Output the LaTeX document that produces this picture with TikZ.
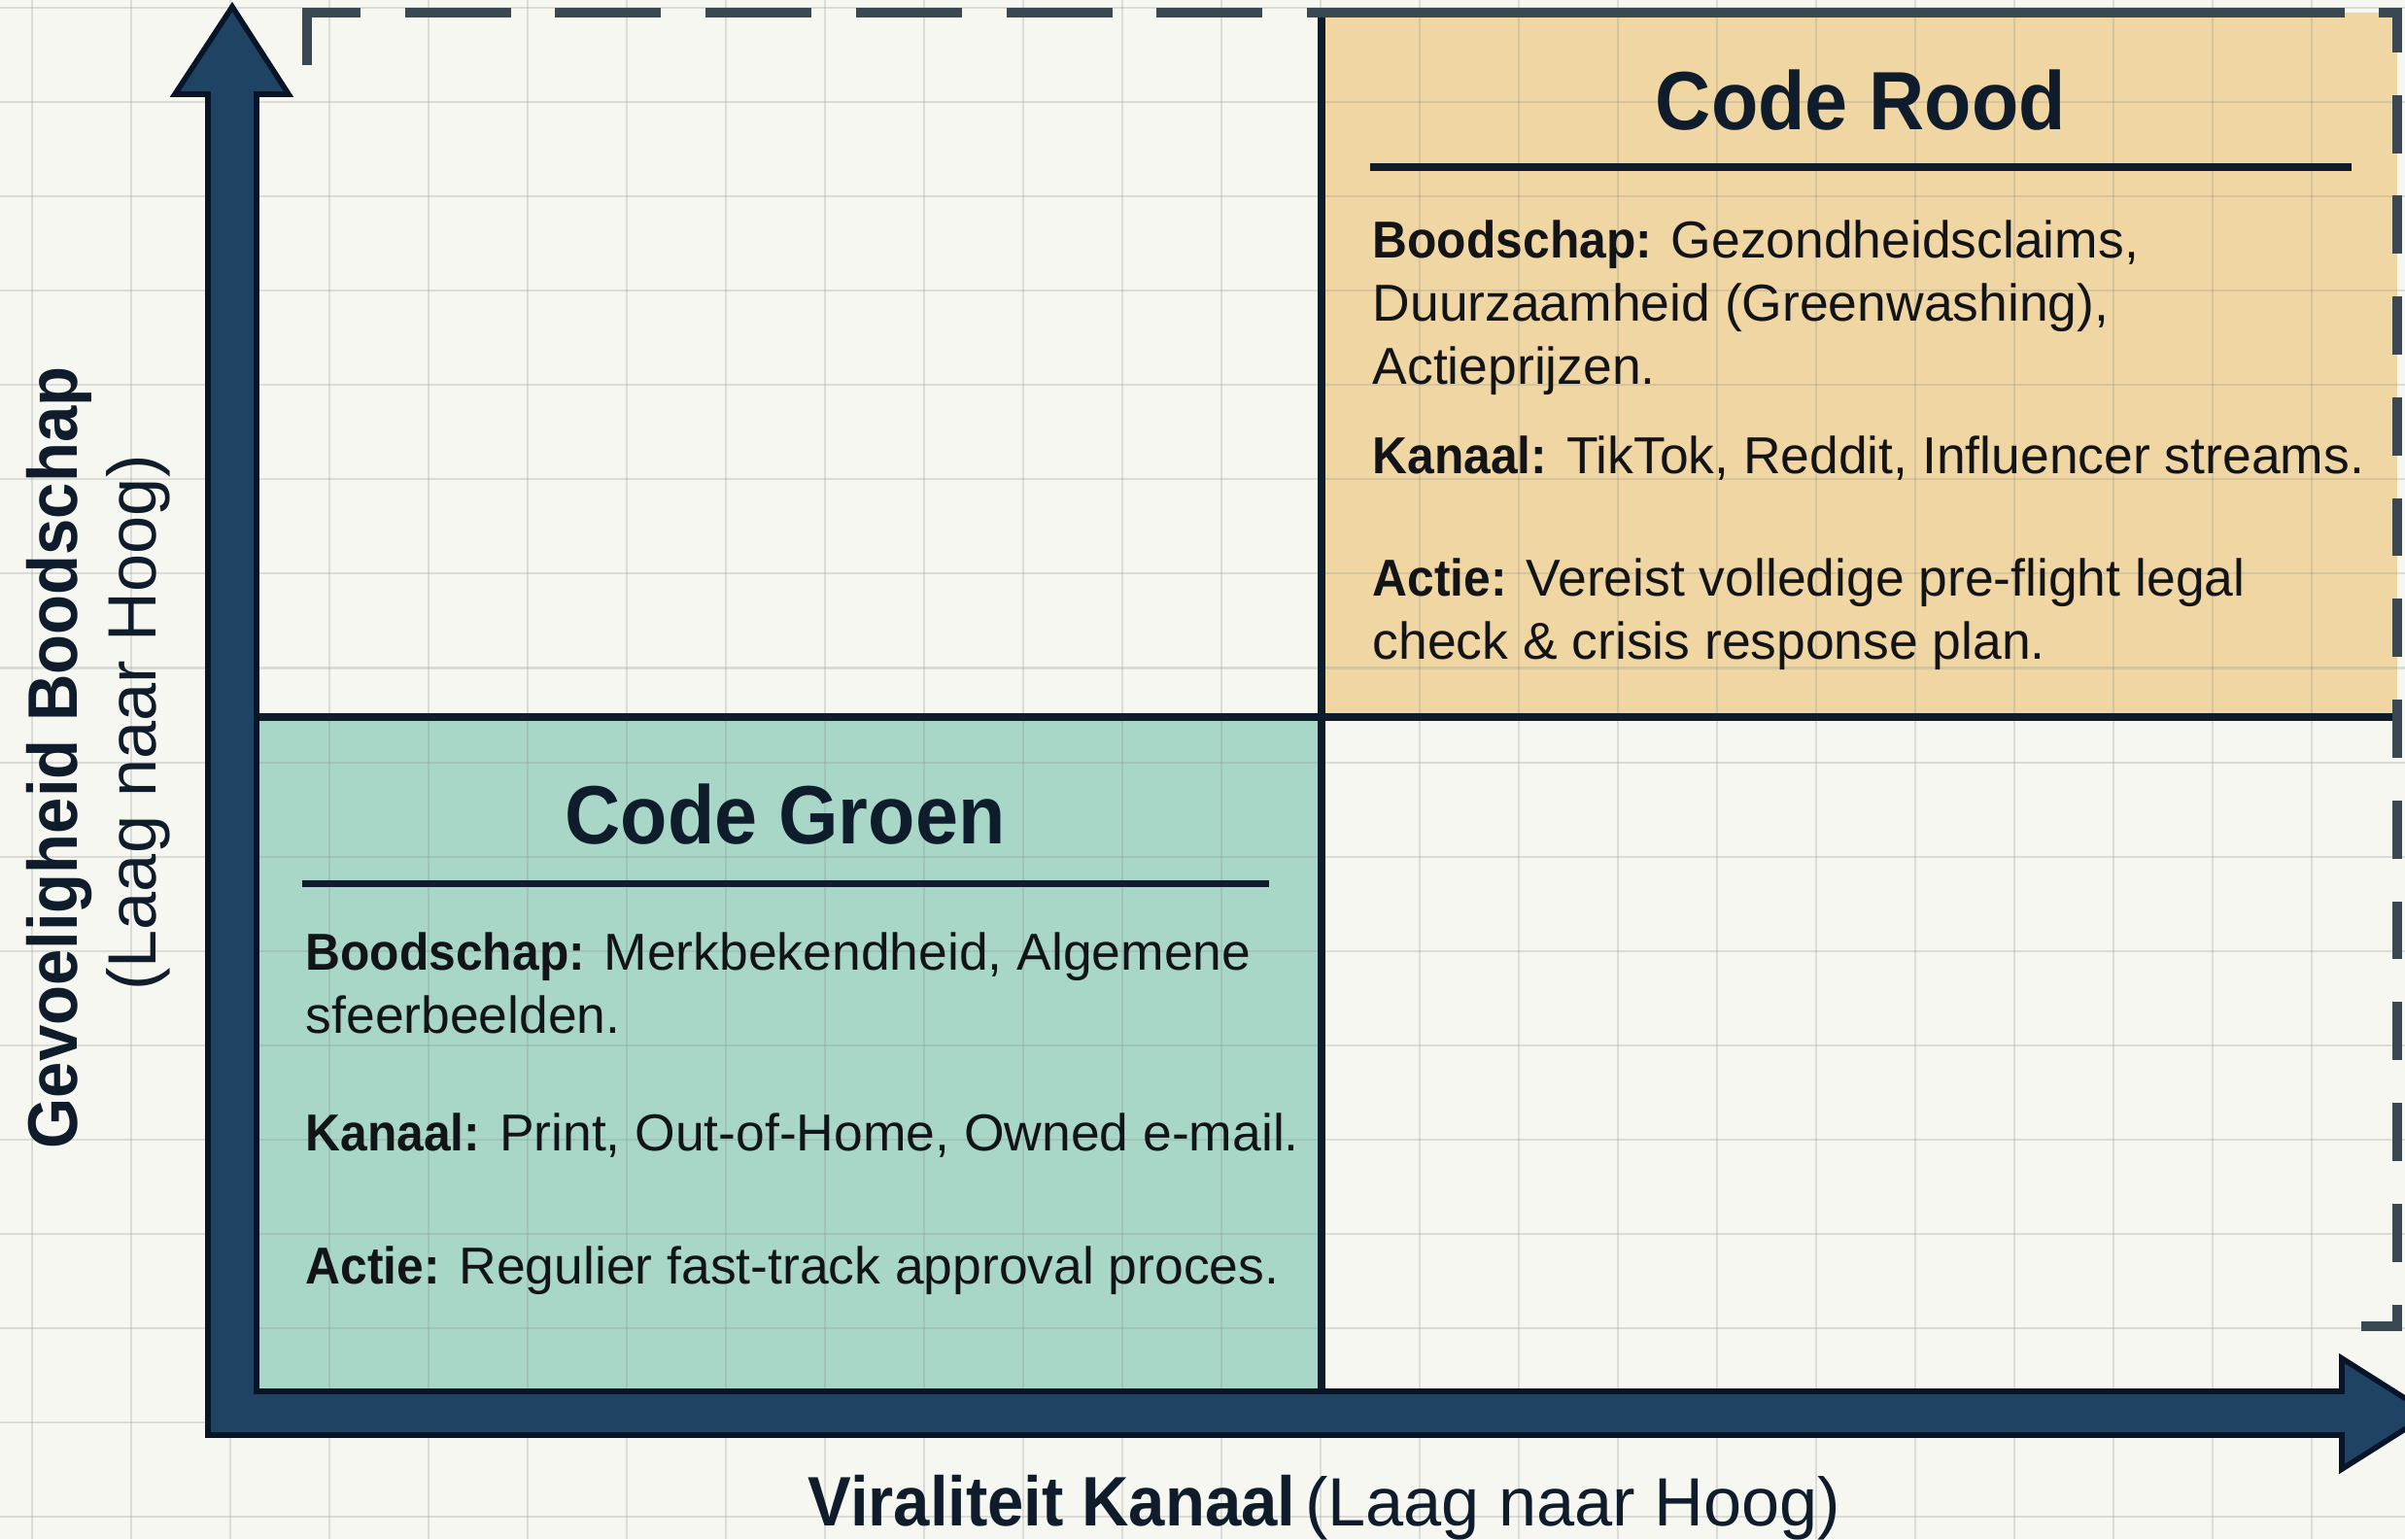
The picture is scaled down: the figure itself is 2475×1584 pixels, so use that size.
\documentclass[tikz,border=0pt]{standalone}
\usepackage{fontspec}
\setmainfont{Liberation Sans}[BoldFeatures={FakeStretch=0.93}]
\definecolor{paper}{HTML}{F7F7F1}
\definecolor{gridc}{HTML}{8A8F8A}
\definecolor{roodfill}{HTML}{EFD6A3}
\definecolor{groenfill}{HTML}{A8D7C7}
\definecolor{asblauw}{HTML}{1F4463}
\definecolor{asrand}{HTML}{081528}
\definecolor{lijn}{HTML}{0E1C2B}
\definecolor{streep}{HTML}{3A4852}
\definecolor{inkt}{HTML}{121417}
\begin{document}
\begin{tikzpicture}[x=0.01cm, y=-0.01cm, line join=miter,
  raster/.style={draw=gridc, opacity=0.25, line width=0.6pt},
  kader/.style={draw=streep, line width=2.8pt},
  deler/.style={draw=lijn, line width=2.2pt},
  titel/.style={anchor=base, inner sep=0pt, text=lijn, font=\bfseries\fontsize{24.2}{29}\selectfont},
  tekst/.style={anchor=base west, align=left, inner sep=0pt, text=inkt, font=\fontsize{15.2}{18.35}\selectfont},
  aslabel/.style={anchor=base, inner sep=0pt, text=lijn},
  as/.style={fill=asblauw, draw=asrand, line width=1.6pt}]
\useasboundingbox (0,0) rectangle (2475,1584);
\clip (0,0) rectangle (2475,1584);
\fill[paper] (0,0) rectangle (2475,1584);
\fill[groenfill] (260,738) rectangle (1360,1432);
\fill[roodfill] (1360,13) rectangle (2467,738);
\foreach \i in {0,...,23} \draw[raster] ({33+102*\i},0) -- ({33+102*\i},1584);
\foreach \j in {0,...,16} \draw[raster] (0,{8+97.07*\j}) -- (2475,{8+97.07*\j});
\draw[deler] (1360,11) -- (1360,1432);
\draw[deler] (260,738) -- (2467,738);
\draw[kader, dash pattern=on 31pt off 13pt] (316,67) -- (316,13) -- (1360,13);
\draw[kader] (1360,13) -- (2413,13);
\draw[kader, dash pattern=on 17pt off 12.5pt] (2448,13) -- (2467,13) -- (2467,1365) -- (2417,1365);
\draw[as] (214,1477) -- (214,97) -- (180,97) -- (239,7) -- (297,97) -- (264,97) -- (264,1432) -- (2410,1432) -- (2410,1398) -- (2500,1455) -- (2410,1512) -- (2410,1477) -- cycle;
\node[titel] (rood) at (1915,133) {Code Rood};
\draw[lijn, line width=2pt] (1410,172) -- (2420,172);
\node[tekst] (roodboodschap) at (1412,395) {\textbf{Boodschap:} Gezondheidsclaims,\\Duurzaamheid (Greenwashing),\\Actieprijzen.};
\node[tekst] (roodkanaal) at (1412,487) {\textbf{Kanaal:} TikTok, Reddit, Influencer streams.};
\node[tekst] (roodactie) at (1412,678) {\textbf{Actie:} Vereist volledige pre-flight legal\\check \& crisis response plan.};
\node[titel] (groen) at (808,868) {Code Groen};
\draw[lijn, line width=2pt] (311,909) -- (1306,909);
\node[tekst] (groenboodschap) at (314,1063) {\textbf{Boodschap:} Merkbekendheid, Algemene\\sfeerbeelden.};
\node[tekst] (groenkanaal) at (314,1184) {\textbf{Kanaal:} Print, Out-of-Home, Owned e-mail.};
\node[tekst] (groenactie) at (314,1321) {\textbf{Actie:} Regulier fast-track approval proces.};
\node[aslabel] (xlabel) at (1363,1570) {{\bfseries\fontsize{20.5}{24}\selectfont Viraliteit Kanaal} {\fontsize{20}{24}\selectfont(Laag naar Hoog)}};
\node[aslabel, rotate=90, font=\bfseries\fontsize{20.5}{24}\selectfont] (ylabel) at (79,780) {Gevoeligheid Boodschap};
\node[aslabel, rotate=90, font=\fontsize{20}{24}\selectfont] (ylabelsub) at (160,744) {(Laag naar Hoog)};
\end{tikzpicture}
\end{document}
